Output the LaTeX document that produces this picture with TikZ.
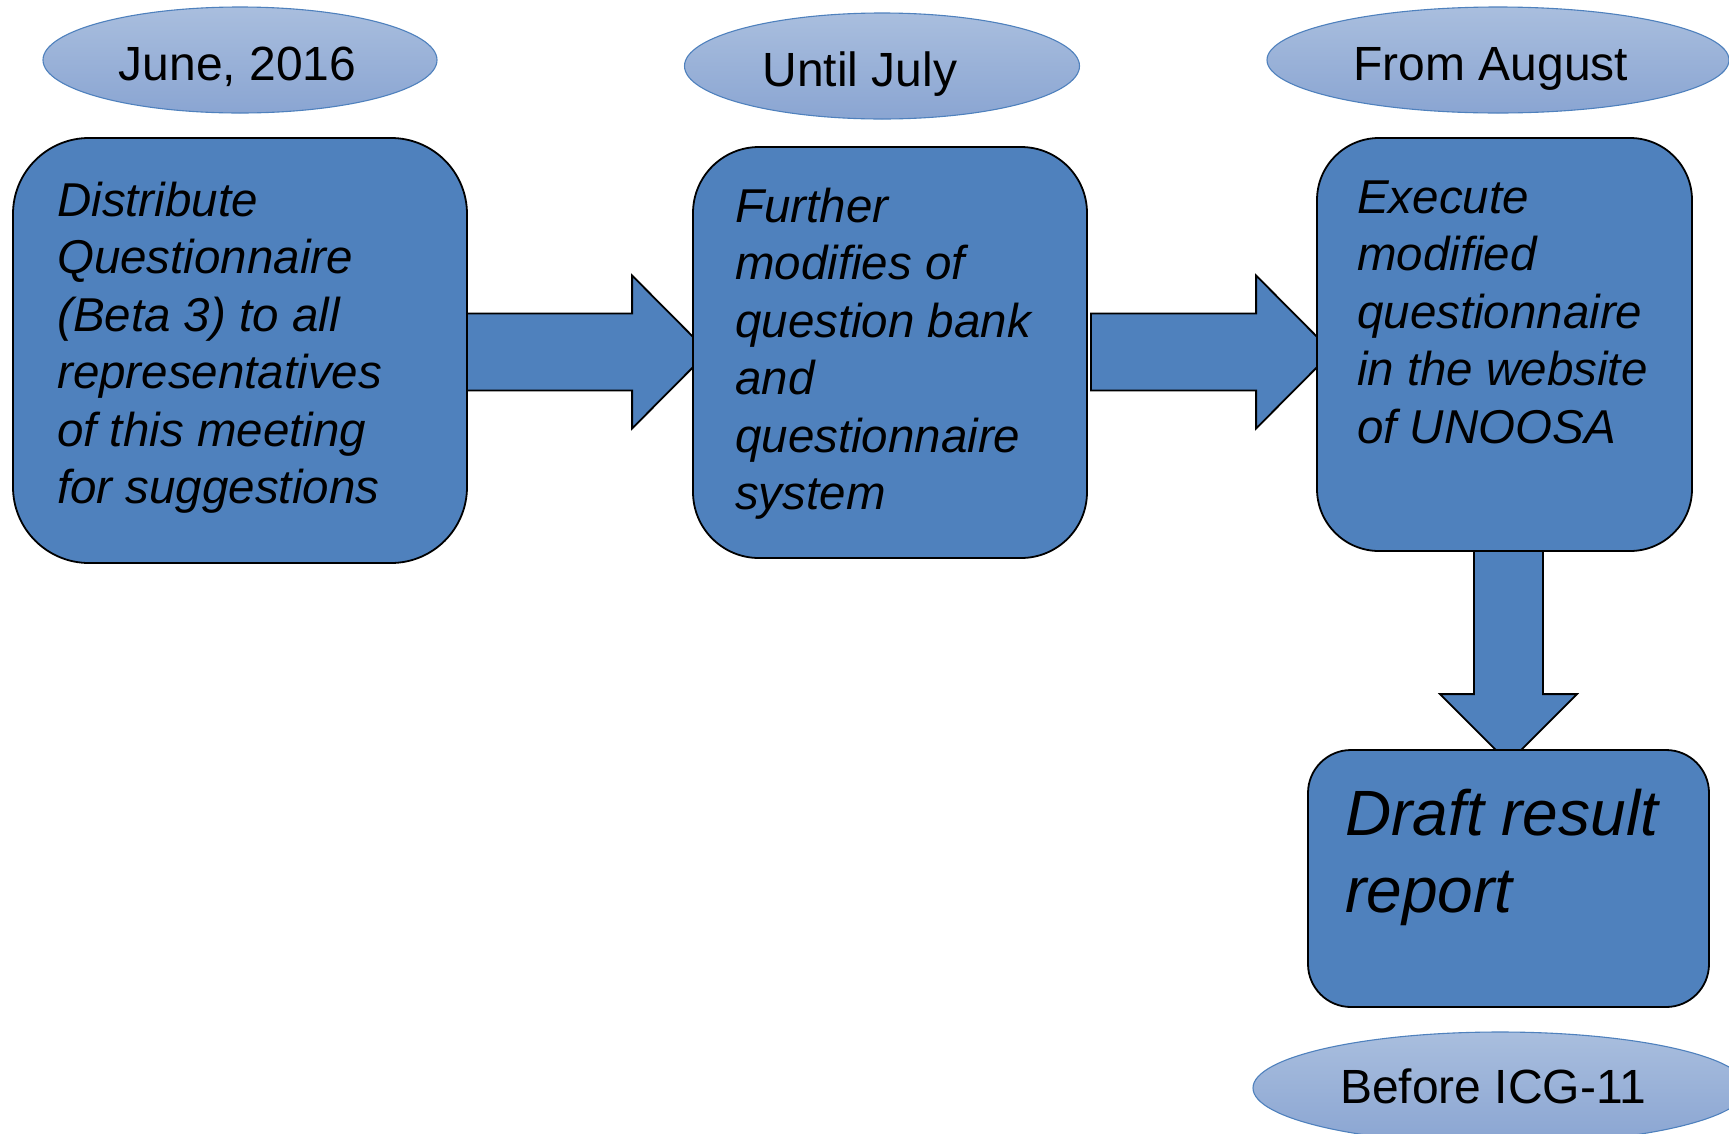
\documentclass[tikz,border=0pt]{standalone}
\usepackage{fontspec}
\setmainfont{Liberation Sans}
\usetikzlibrary{shapes.geometric,calc}
\pgfdeclarelayer{paper}
\pgfdeclarelayer{bg}
\pgfsetlayers{paper,bg,main}
\definecolor{boxblue}{HTML}{4F81BD}
\definecolor{elltop}{HTML}{A9BEDE}
\definecolor{ellbot}{HTML}{8AA5D2}
\begin{document}
\begin{tikzpicture}[x=1pt,y=-1pt,
  stepbox/.style={draw=black,line width=1.8pt,fill=boxblue,rounded corners=#1,inner sep=0pt},
  dateell/.style={ellipse,draw=boxblue,line width=1.1pt,top color=elltop,bottom color=ellbot,inner sep=0pt},
  datetxt/.style={font=\fontsize{48}{57.6}\selectfont,inner sep=0pt,anchor=base},
  boxtxt/.style={font=\fontsize{47.5}{57.5}\selectfont\itshape,align=left,inner sep=0pt,anchor=north west},
  bigtxt/.style={font=\fontsize{64}{77}\selectfont\itshape,align=left,inner sep=0pt,anchor=north west},
  blockarrow/.style={draw=black,line width=1.8pt,fill=boxblue,line join=miter}]
\begin{pgfonlayer}{paper}
\fill[white] (0,0) rectangle (1729,1133);
\end{pgfonlayer}
\useasboundingbox (0,0) rectangle (1729,1133);

% boxes
\node[stepbox=76pt,minimum width=454pt,minimum height=425pt] (b1) at (240,350.5) {};
\node[stepbox=66pt,minimum width=394pt,minimum height=411pt] (b2) at (890,352.5) {};
\node[stepbox=62pt,minimum width=375pt,minimum height=413pt] (b3) at (1504.5,344.5) {};
\node[stepbox=43pt,minimum width=401pt,minimum height=257pt] (b4) at (1508.5,878.5) {};

% box texts
\node[boxtxt] (t1) at (57,175.75) {\strut Distribute\\Questionnaire\\(Beta 3) to all\\representatives\\of this meeting\\for suggestions};
\node[boxtxt] (t2) at (735,181.75) {\strut Further\\modifies of\\question bank\\and\\questionnaire\\system};
\node[boxtxt] (t3) at (1357,172.75) {\strut Execute\\modified\\questionnaire\\in the website\\of UNOOSA};
\node[bigtxt] (t4) at (1345,781.1) {\strut Draft result\\report};

% date ellipses
\node[dateell,minimum width=394pt,minimum height=106pt] (e1) at (240,60) {};
\node[dateell,minimum width=395pt,minimum height=106pt] (e2) at (882,66) {};
\node[dateell,minimum width=462pt,minimum height=106pt] (e3) at (1498,60) {};
\node[dateell,minimum width=494pt,minimum height=112pt] (e4) at (1500,1088) {};
\node[datetxt] (d1) at (237.5,80) {June, 2016};
\node[datetxt] (d2) at (860,86) {Until July};
\node[datetxt] (d3) at (1491,80) {From August};
\node[datetxt] (d4) at (1493,1103) {Before ICG-11};

% block arrows behind the boxes
\begin{pgfonlayer}{bg}
\draw[blockarrow]
  ($(b1.east)+(-27,-37)$) coordinate (s1)
  -- ($(b2.west |- s1)+(-60,0)$)
  -- ++(0,-38)
  -- ($(b2.west |- s1)+(16,38.5)$)
  -- ($(b2.west |- s1)+(-60,115)$)
  -- ++(0,-38)
  -- ($(s1)+(0,77)$) -- cycle;
\draw[blockarrow]
  ($(b2.east)+(3,-39)$) coordinate (s2)
  -- ($(b3.west |- s2)+(-60,0)$)
  -- ++(0,-38)
  -- ($(b3.west |- s2)+(16,38.5)$)
  -- ($(b3.west |- s2)+(-60,115)$)
  -- ++(0,-38)
  -- ($(s2)+(0,77)$) -- cycle;
\draw[blockarrow]
  ($(b4.north |- b3.south)+(-34.5,-30)$) coordinate (s3)
  -- ($(s3 |- b4.north)+(0,-55)$)
  -- ++(-34,0)
  -- ($(b4.north)+(0,13.5)$)
  -- ($(b4.north)+(68.5,-55)$)
  -- ++(-34,0)
  -- ($(s3)+(69,0)$) -- cycle;
\end{pgfonlayer}
\end{tikzpicture}
\end{document}
